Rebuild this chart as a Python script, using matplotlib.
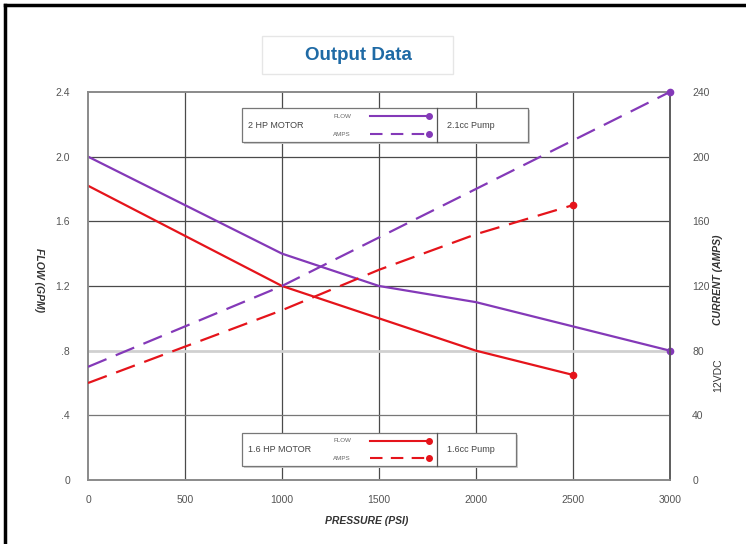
import matplotlib.pyplot as plt
from matplotlib.lines import Line2D
from matplotlib.patches import Rectangle

plt.rcParams['font.family'] = ['Liberation Sans', 'DejaVu Sans']

# pressure (psi) / flow (gpm) / current (amps)
p_2hp = [0, 1000, 1500, 2000, 3000]
flow_2hp = [2.0, 1.4, 1.2, 1.1, 0.8]
p_2hp_amps = [0, 1000, 1500, 2000, 2500, 3000]
amps_2hp = [70, 120, 150, 180, 210, 240]

p_16hp = [0, 1000, 1500, 2000, 2500]
flow_16hp = [1.82, 1.2, 1.0, 0.8, 0.65]
amps_16hp = [60, 105, 130, 152, 170]

x_ticks = [0, 500, 1000, 1500, 2000, 2500, 3000]
y_ticks = [0, 0.4, 0.8, 1.2, 1.6, 2.0, 2.4]
y_labels = ['0', '.4', '.8', '1.2', '1.6', '2.0', '2.4']
amp_ticks = [0, 40, 80, 120, 160, 200, 240]

purple = '#8439b8'
red = '#e5141b'
grey = '#555555'

fig = plt.figure(figsize=(7.46, 5.44), dpi=100)
ax = fig.add_axes([0.118, 0.1176, 0.78, 0.7134])
ax2 = ax.twinx()

ax.set_xlim(0, 3000)
ax.set_ylim(0, 2.4)
ax2.set_ylim(0, 240)

# grid
for x in x_ticks[1:-1]:
    ax.axvline(x, color='#4a4a4a', lw=0.9, zorder=1)
for y in [1.2, 1.6, 2.0]:
    ax.axhline(y, color='#4a4a4a', lw=0.9, zorder=1)
ax.axhline(0.4, color='#777777', lw=0.9, zorder=1)
ax.axhline(0.8, color='#d0d0d0', lw=2.0, zorder=1)

for a in (ax, ax2):
    for s in a.spines.values():
        s.set_color('#8a8a8a')
        s.set_linewidth(1.2)
ax2.spines['right'].set_color('#555555')

ax.set_xticks(x_ticks)
ax.set_xticklabels([str(v) for v in x_ticks])
ax.set_yticks(y_ticks)
ax.set_yticklabels(y_labels)
ax2.set_yticks(amp_ticks)
ax.tick_params(axis='x', length=0, pad=11, labelsize=7.5, labelcolor=grey)
ax.tick_params(axis='y', length=0, pad=13, labelsize=7.5, labelcolor=grey)
ax2.tick_params(axis='y', length=0, pad=16, labelsize=7.5, labelcolor=grey)

dash = (0, (9, 4.5))
ax.plot(p_2hp, flow_2hp, color=purple, lw=1.6, zorder=3)
ax.plot([p_2hp[-1]], [flow_2hp[-1]], 'o', color=purple, ms=4.5, zorder=4, clip_on=False)
ax.plot(p_16hp, flow_16hp, color=red, lw=1.6, zorder=3)
ax.plot([p_16hp[-1]], [flow_16hp[-1]], 'o', color=red, ms=4.5, zorder=4)
ax2.plot(p_2hp_amps, amps_2hp, color=purple, lw=1.6, ls=dash, zorder=3)
ax2.plot([p_2hp_amps[-1]], [amps_2hp[-1]], 'o', color=purple, ms=4.5, zorder=4, clip_on=False)
ax2.plot(p_16hp, amps_16hp, color=red, lw=1.6, ls=dash, zorder=3)
ax2.plot([p_16hp[-1]], [amps_16hp[-1]], 'o', color=red, ms=4.5, zorder=4)

# axis labels
fig.text(0.492, 0.042, 'PRESSURE (PSI)', ha='center', va='center', fontsize=7.5,
         style='italic', weight='bold', color='#333333')
fig.text(0.052, 0.485, 'FLOW (GPM)', ha='center', va='center', fontsize=7.5,
         style='italic', weight='bold', color='#333333', rotation=270)
fig.text(0.963, 0.485, 'CURRENT (AMPS)', ha='center', va='center', fontsize=7.5,
         style='italic', weight='bold', color='#333333', rotation=90)
fig.text(0.963, 0.31, '12VDC', ha='center', va='center', fontsize=7.5,
         color='#333333', rotation=90)

W, H = 746, 544


def fx(px):
    return px / W


def fy(py):
    return 1 - py / H


def legend_box(top, bottom, right, motor, pump, color):
    fig.add_artist(Rectangle((fx(244), fy(bottom + 2)), fx(right - 242), fy(top) - fy(bottom),
                             transform=fig.transFigure, facecolor='#d0d0d0', edgecolor='none', zorder=5))
    fig.add_artist(Rectangle((fx(242), fy(bottom)), fx(right - 242), fy(top) - fy(bottom),
                             transform=fig.transFigure, facecolor='white', edgecolor='#777777',
                             lw=0.9, zorder=6))
    fig.add_artist(Line2D([fx(437), fx(437)], [fy(top), fy(bottom)], transform=fig.transFigure,
                          color='#555555', lw=0.9, zorder=7))
    mid = (top + bottom) / 2
    fig.text(fx(248), fy(mid), motor, ha='left', va='center', fontsize=6.5, color='#444444', zorder=8)
    fig.text(fx(447), fy(mid), pump, ha='left', va='center', fontsize=6.5, color='#444444', zorder=8)
    fig.text(fx(333), fy(top + 8), 'FLOW', ha='left', va='center', fontsize=4.5, color='#666666', zorder=8)
    fig.text(fx(333), fy(bottom - 8), 'AMPS', ha='left', va='center', fontsize=4.5, color='#666666', zorder=8)
    fig.add_artist(Line2D([fx(370), fx(429)], [fy(top + 8), fy(top + 8)], transform=fig.transFigure,
                          color=color, lw=1.5, zorder=8))
    fig.add_artist(Line2D([fx(370), fx(429)], [fy(bottom - 8), fy(bottom - 8)], transform=fig.transFigure,
                          color=color, lw=1.5, ls=(0, (6, 4)), zorder=8))
    for yy in (top + 8, bottom - 8):
        fig.add_artist(Line2D([fx(429)], [fy(yy)], transform=fig.transFigure, marker='o', ms=4,
                              color=color, zorder=9))


legend_box(108, 142, 528, '2 HP MOTOR', '2.1cc Pump', purple)
legend_box(433, 466, 516, '1.6 HP MOTOR', '1.6cc Pump', red)

# title box
fig.add_artist(Rectangle((fx(262), fy(74)), fx(191), fy(36) - fy(74), transform=fig.transFigure,
                         facecolor='white', edgecolor='#e6e6e6', lw=1.0, zorder=5))
fig.text(fx(358), fy(55), 'Output Data', ha='center', va='center', fontsize=13.5,
         weight='bold', color='#1f6aa5', zorder=6)

# outer frame
fig.add_artist(Line2D([fx(5), fx(5)], [fy(5), 0], transform=fig.transFigure, color='black', lw=2.5))
fig.add_artist(Line2D([fx(5), 1], [fy(5), fy(5)], transform=fig.transFigure, color='black', lw=2.5))

fig.savefig('out.png', dpi=100)
